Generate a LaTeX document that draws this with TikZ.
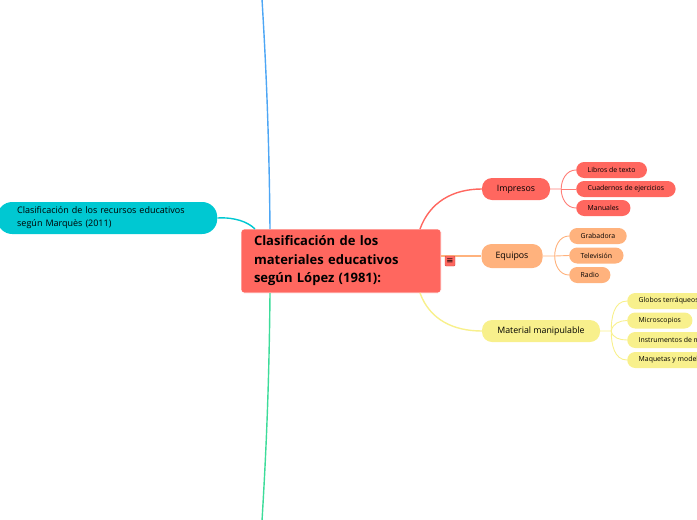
\documentclass[tikz,border=0pt]{standalone}
\usepackage{fontspec}
\setmainfont{Open Sans}
\newfontfamily\symfont{DejaVu Sans}
\usetikzlibrary{positioning}
\definecolor{rojo}{RGB}{255, 103, 95}
\definecolor{naranja}{RGB}{255, 178, 125}
\definecolor{amarillo}{RGB}{248, 240, 140}
\definecolor{turquesa}{RGB}{0, 200, 210}
\definecolor{azul}{RGB}{77, 166, 245}
\definecolor{verde}{RGB}{61, 220, 154}

\begin{document}
\begin{tikzpicture}[x=1pt, y=-1pt,
    central/.style={draw=white, line width=0.8pt, fill=rojo, rounded corners=3pt, minimum width=200pt, minimum height=64pt, text width=174pt, align=left, font=\fontsize{13}{18.5}\selectfont\bfseries, inner xsep=13pt},
    rama/.style={rounded corners=10pt, minimum height=22pt, inner xsep=14pt, font=\fontsize{8.8}{10}\selectfont},
    hoja/.style={rounded corners=8pt, minimum height=16pt, inner xsep=11.5pt, inner ysep=2pt, font=\fontsize{6.9}{8}\selectfont, anchor=west},
    linea/.style={line width=1.4pt},
    sublinea/.style={line width=0.9pt}
  ]
  \useasboundingbox (0,0) rectangle (697,520);

  % nodo central
  \node[central] (ctr) at (341,261) {Clasificación de los\\materiales educativos\\según López (1981):};

  % ramas
  \node[rama, fill=rojo, minimum width=68pt] (imp) at (516,189) {Impresos};
  \node[rama, fill=naranja, minimum width=61pt, minimum height=24pt] (equ) at (512,256) {Equipos};
  \node[rama, fill=amarillo, minimum width=118pt] (mat) at (541,331) {Material manipulable};
  \node[rounded corners=15pt, fill=turquesa, minimum width=218pt, minimum height=32pt, text width=180pt, inner xsep=20pt, align=left, anchor=west, font=\fontsize{9}{13}\selectfont] (mar) at (-3,218) {Clasificación de los recursos educativos\\según Marquès (2011)};

  % hojas
  \node[hoja, fill=rojo] (lib) at (576,170) {Libros de texto};
  \node[hoja, fill=rojo] (cua) at (576,189) {Cuadernos de ejercicios};
  \node[hoja, fill=rojo] (man) at (576,208) {Manuales};
  \node[hoja, fill=naranja] (gra) at (569,236) {Grabadora};
  \node[hoja, fill=naranja] (tel) at (569,255.5) {Televisión};
  \node[hoja, fill=naranja] (rad) at (569,275) {Radio};
  \node[hoja, fill=amarillo] (glo) at (627,301) {Globos terráqueos};
  \node[hoja, fill=amarillo] (mic) at (627,320.5) {Microscopios};
  \node[hoja, fill=amarillo] (ins) at (627,340) {Instrumentos de medida};
  \node[hoja, fill=amarillo] (maq) at (627,360) {Maquetas y modelos};

  \coordinate (arriba) at (262,-1);
  \coordinate (abajo) at (262,521);
  \coordinate (ctrN) at (270,229);
  \coordinate (ctrS) at (270,293);
  \coordinate (ctrA) at (420,229);
  \coordinate (ctrB) at (420,293);
  \coordinate (ctrM) at (255,229);

  \draw[linea, azul] (ctrN) .. controls (269,120) and (265,50) .. (arriba);
  \draw[linea, verde] (ctrS) .. controls (269,400) and (265,470) .. (abajo);
  \draw[linea, turquesa] (mar.east) .. controls (235,217) and (248,222) .. (ctrM);
  \draw[linea, rojo] (ctrA) to[out=70, in=180] (imp.west);
  \draw[linea, amarillo] (ctrB) to[out=-70, in=180] (mat.west);
  \draw[linea, naranja] (ctr.east |- equ.west) -- (equ.west);

  % conectores de hojas
  \draw[sublinea, rojo!85!white] (imp.east) -- ++(11,0) coordinate (bi) to[out=90, in=180] (lib.west);
  \draw[sublinea, rojo!85!white] (bi) -- (cua.west);
  \draw[sublinea, rojo!85!white] (bi) to[out=-90, in=180] (man.west);
  \draw[sublinea, naranja] (equ.east) -- ++(12,0) coordinate (be) to[out=90, in=180] (gra.west);
  \draw[sublinea, naranja] (be) -- (tel.west);
  \draw[sublinea, naranja] (be) to[out=-90, in=180] (rad.west);
  \draw[sublinea, amarillo] (mat.east) -- ++(11,0) coordinate (bm) to[out=90, in=180] (glo.west);
  \draw[sublinea, amarillo] (bm) to[out=80, in=180] (mic.west);
  \draw[sublinea, amarillo] (bm) to[out=-80, in=180] (ins.west);
  \draw[sublinea, amarillo] (bm) to[out=-90, in=180] (maq.west);

  % icono
  \node[fill=rojo, draw=rojo!80!black, line width=0.4pt, rounded corners=1pt, minimum size=10pt, inner sep=0pt, font=\symfont\fontsize{8.5}{8.5}\selectfont] (menu) at (450,261) {≡};
\end{tikzpicture}
\end{document}
